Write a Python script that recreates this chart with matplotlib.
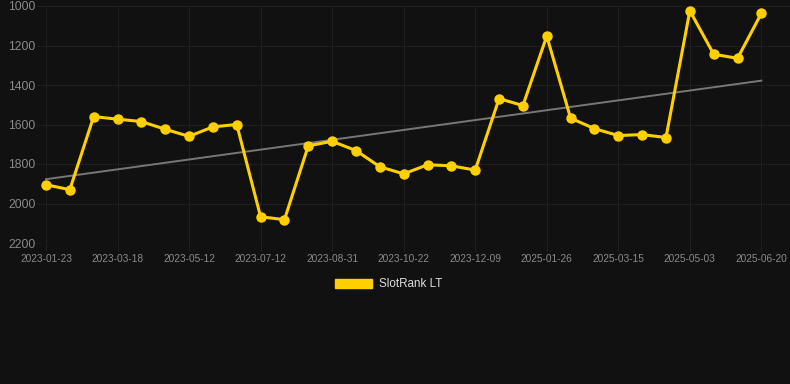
import numpy as np
import matplotlib.pyplot as plt
from matplotlib.patches import Patch

# data (rank, lower is better -> inverted axis)
dates = ['2023-01-23', '', '', '2023-03-18', '', '', '2023-05-12', '', '',
         '2023-07-12', '', '', '2023-08-31', '', '', '2023-10-22', '', '',
         '2023-12-09', '', '', '2025-01-26', '', '', '2025-03-15', '', '',
         '2025-05-03', '', '', '2025-06-20']
rank = [1905, 1930, 1560, 1573, 1585, 1624, 1660, 1612, 1600, 2067, 2082,
        1708, 1685, 1732, 1814, 1850, 1804, 1809, 1831, 1469, 1504, 1152,
        1568, 1621, 1656, 1651, 1666, 1024, 1244, 1265, 1037]
trend_ends = [1877, 1378]
yticks = [1000, 1200, 1400, 1600, 1800, 2000, 2200]

plt.rcParams['font.family'] = ['Liberation Sans', 'DejaVu Sans']

bg = '#111111'
grid_c = '#1f1f1f'
fig = plt.figure(figsize=(7.9, 3.84), dpi=100, facecolor=bg)
ax = fig.add_axes([40 / 790, 1 - 243 / 384, 750 / 790, 237 / 384])
ax.set_facecolor(bg)

x = np.arange(len(rank))
ax.plot([x[0], x[-1]], trend_ends, color='#777777', lw=1.4, zorder=2)
ax.plot(x, rank, color='#FFD000', lw=2.2, marker='o', ms=6.5, zorder=3)

ax.set_ylim(2200, 1000)
ax.set_xlim(-0.25, 31.2)
ax.set_yticks(yticks)
tick_idx = [i for i, d in enumerate(dates) if d]
ax.set_xticks(tick_idx)
ax.set_xticklabels([dates[i] for i in tick_idx])

ax.grid(True, color=grid_c, lw=0.8)
for s in ax.spines.values():
    s.set_visible(False)
ax.tick_params(axis='x', colors=grid_c, labelcolor='#8a8a8a', labelsize=7.3,
               length=6, width=0.8, pad=2)
ax.tick_params(axis='y', colors=grid_c, labelcolor='#8a8a8a', labelsize=8.7,
               length=2, width=0.8, pad=1)

# legend handle drawn as a filled box like the original
ax.legend(handles=[Patch(facecolor='#FFD000', edgecolor='#FFD000',
                         label='SlotRank LT')],
          loc='upper center', bbox_to_anchor=(0.465, -0.105), frameon=False,
          handlelength=3.2, handleheight=0.8, handletextpad=0.6,
          fontsize=8.4, labelcolor='#dddddd')

fig.savefig('out.png', dpi=100, facecolor=bg)
